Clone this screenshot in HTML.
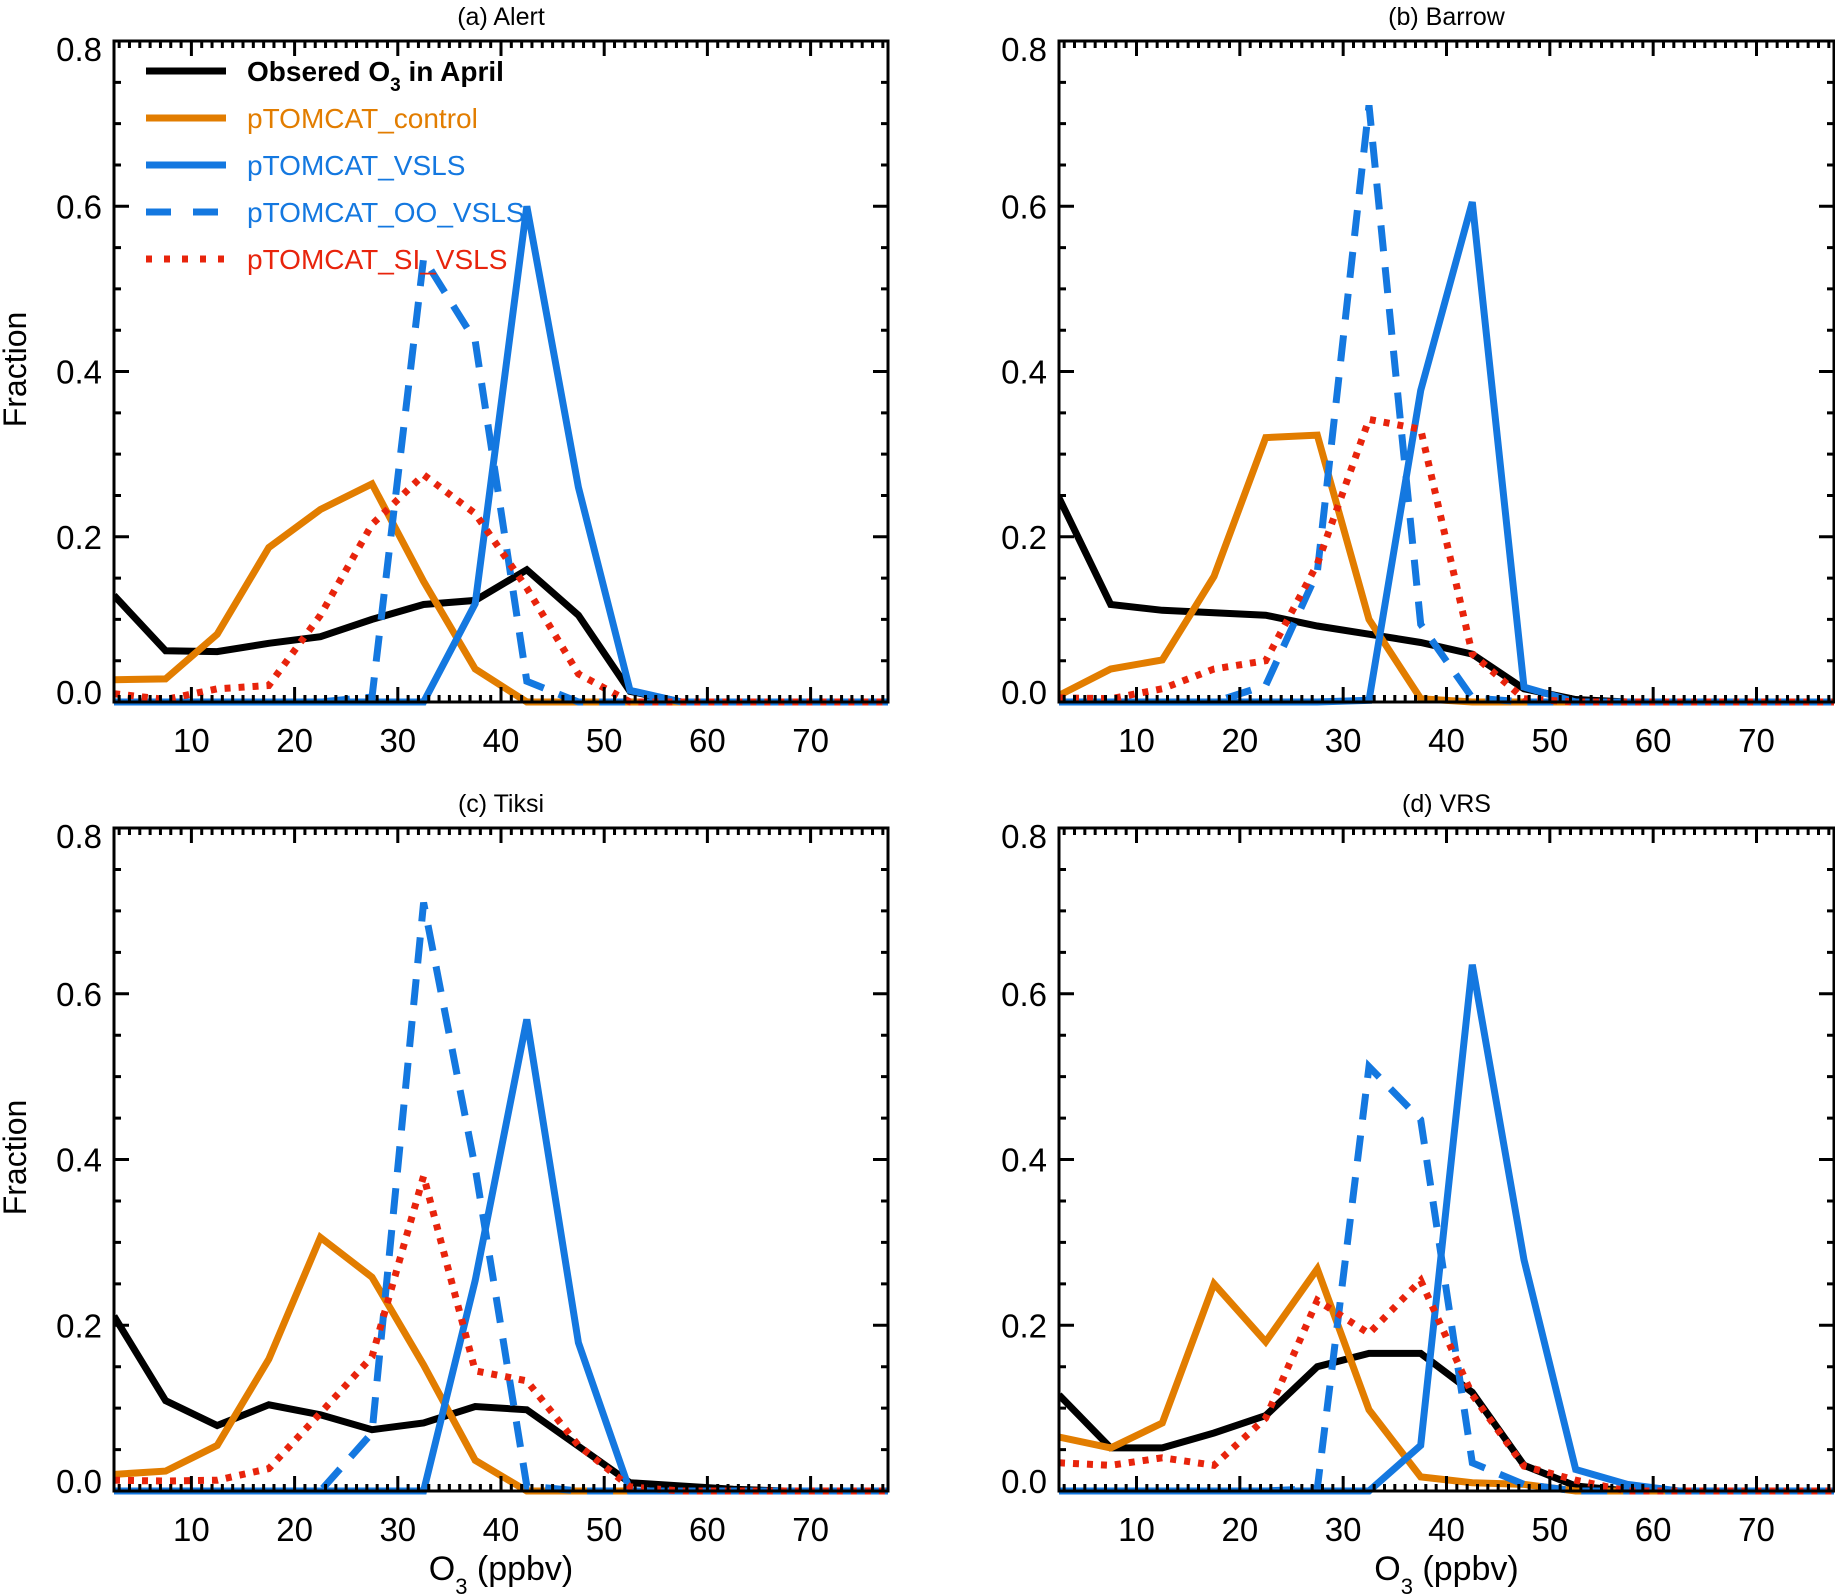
<!DOCTYPE html>
<html><head><meta charset="utf-8">
<style>
html,body{margin:0;padding:0;background:#fff;}
svg{display:block;}
text{font-family:"Liberation Sans","DejaVu Sans",sans-serif;}
</style></head>
<body>
<svg id="fig" width="1835" height="1595" viewBox="0 0 1835 1595" xmlns="http://www.w3.org/2000/svg"></svg>
<script>
const bins = [2.5,7.5,12.5,17.5,22.5,27.5,32.5,37.5,42.5,47.5,52.5,57.5,62.5,67.5,72.5,77.5];
const panelTitles = ["(a)  Alert","(b)  Barrow","(c)  Tiksi","(d)  VRS"];
const yTickLabels = ["0.0","0.2","0.4","0.6","0.8"];
const xTickLabels = ["10","20","30","40","50","60","70"];
const seriesNames = ["Obsered O3 in April","pTOMCAT_control","pTOMCAT_VSLS","pTOMCAT_OO_VSLS","pTOMCAT_SI_VSLS"];

const alertObs     = [0.129,0.062,0.061,0.071,0.079,0.100,0.118,0.123,0.160,0.105,0.013,0,0,0,0,0];
const alertCtrl    = [0.027,0.028,0.082,0.187,0.233,0.264,0.146,0.040,0,0,0,0,0,0,0,0];
const alertVsls    = [0,0,0,0,0,0,0,0.119,0.600,0.260,0.014,0,0,0,0,0];
const alertOo      = [0,0,0,0,0,0.006,0.537,0.437,0.025,0,0,0,0,0,0,0];
const alertSi      = [0.010,0.003,0.016,0.020,0.105,0.215,0.275,0.228,0.138,0.034,0,0,0,0,0,0];

const barrowObs    = [0.247,0.118,0.111,0.108,0.105,0.092,0.082,0.072,0.058,0.016,0.003,0,0,0,0,0];
const barrowCtrl   = [0.008,0.040,0.051,0.152,0.320,0.323,0.100,0.004,0,0,0,0,0,0,0,0];
const barrowVsls   = [0,0,0,0,0,0,0.002,0.377,0.605,0.018,0,0,0,0,0,0];
const barrowOo     = [0,0,0,0,0.020,0.157,0.722,0.094,0.005,0,0,0,0,0,0,0];
const barrowSi     = [0.005,0.004,0.016,0.040,0.050,0.167,0.342,0.330,0.058,0.004,0,0,0,0,0,0];

const tiksiObs     = [0.211,0.109,0.079,0.104,0.092,0.074,0.082,0.102,0.098,0.054,0.010,0.006,0.002,0,0,0];
const tiksiCtrl    = [0.020,0.024,0.055,0.159,0.306,0.258,0.152,0.037,0,0,0,0,0,0,0,0];
const tiksiVsls    = [0,0,0,0,0,0,0,0.254,0.569,0.179,0,0,0,0,0,0];
const tiksiOo      = [0,0,0,0,0,0.070,0.710,0.390,0.006,0,0,0,0,0,0,0];
const tiksiSi      = [0.013,0.012,0.013,0.027,0.094,0.162,0.380,0.145,0.133,0.055,0.005,0,0,0,0,0];

const vrsObs       = [0.116,0.052,0.052,0.070,0.091,0.150,0.166,0.166,0.119,0.031,0.006,0,0,0,0,0];
const vrsCtrl      = [0.065,0.052,0.082,0.250,0.180,0.268,0.098,0.017,0.010,0.008,0,0,0,0,0,0];
const vrsVsls      = [0,0,0,0,0,0,0,0.055,0.635,0.279,0.026,0.008,0,0,0,0];
const vrsOo        = [0,0,0,0,0,0.003,0.512,0.448,0.034,0.008,0,0,0,0,0,0];
const vrsSi        = [0.034,0.031,0.040,0.031,0.088,0.230,0.190,0.254,0.116,0.030,0.013,0,0,0,0,0];

const NS = "http://www.w3.org/2000/svg";
const svg = document.getElementById("fig");
function mk(tag, attrs, parent){
  const e = document.createElementNS(NS, tag);
  for (const k in attrs) e.setAttribute(k, attrs[k]);
  (parent||svg).appendChild(e);
  return e;
}
const styles = [
  {stroke:"#000000", dash:null},
  {stroke:"#E27D00", dash:null},
  {stroke:"#1478E0", dash:null},
  {stroke:"#1478E0", dash:"26 16"},
  {stroke:"#E8240C", dash:"6 8"}
];
const panels = [
  {x0:114, x1:888, y0:41, y1:702, data:[alertObs,alertCtrl,alertVsls,alertOo,alertSi], legend:true, ylab:true, xlab:false, key:"alert"},
  {x0:1059, x1:1834, y0:41, y1:702, data:[barrowObs,barrowCtrl,barrowVsls,barrowOo,barrowSi], legend:false, ylab:false, xlab:false, key:"barrow"},
  {x0:114, x1:888, y0:828, y1:1491, data:[tiksiObs,tiksiCtrl,tiksiVsls,tiksiOo,tiksiSi], legend:false, ylab:true, xlab:true, key:"tiksi"},
  {x0:1059, x1:1834, y0:828, y1:1491, data:[vrsObs,vrsCtrl,vrsVsls,vrsOo,vrsSi], legend:false, ylab:false, xlab:true, key:"vrs"}
];
const XMIN=2.5, XMAX=77.5, YMIN=0, YMAX=0.8;

panels.forEach((p, pi) => {
  const g = mk("g", {});
  
  
  const sx = v => p.x0 + (v - XMIN) / (XMAX - XMIN) * (p.x1 - p.x0);
  const sy = v => p.y1 - (v - YMIN) / (YMAX - YMIN) * (p.y1 - p.y0);

  const t = mk("text", {x:(p.x0+p.x1)/2, y:p.y0-16, "font-size":25, "text-anchor":"middle", fill:"#000"}, g);
  t.textContent = panelTitles[pi];
  
  

  const cid = "clip"+pi;
  const cp = mk("clipPath", {id:cid}, g);
  mk("rect", {x:p.x0, y:p.y0, width:p.x1-p.x0, height:p.y1-p.y0+4}, cp);
  const sg = mk("g", {"clip-path":"url(#"+cid+")"}, g);
  p.data.forEach((arr, si) => {
    const pts = arr.map((v,i) => sx(bins[i]).toFixed(1)+","+sy(v).toFixed(1)).join(" ");
    const st = styles[si];
    const a = {points:pts, fill:"none", stroke:st.stroke, "stroke-width":7, "stroke-linejoin":"miter"};
    if (st.dash) a["stroke-dasharray"] = st.dash;
    const pl = mk("polyline", a, sg);
    
    
  });

  const fr = mk("rect", {x:p.x0, y:p.y0, width:p.x1-p.x0, height:p.y1-p.y0, fill:"none", stroke:"#000", "stroke-width":3}, g);
  
  

  let d = "";
  for (let v=3; v<=77; v++) {
    const x = sx(v);
    const L = (v % 10 === 0) ? 15 : 7;
    d += `M${x},${p.y1}v${-L}M${x},${p.y0}v${L}`;
  }
  for (let k=1; k<16; k++) {
    const y = sy(k*0.05);
    const L = (k % 4 === 0) ? 15 : 7;
    d += `M${p.x0},${y}h${L}M${p.x1},${y}h${-L}`;
  }
  const tk = mk("path", {d:d, stroke:"#000", "stroke-width":3, fill:"none"}, g);
  
  

  xTickLabels.forEach(lbl => {
    const x = sx(parseFloat(lbl));
    const e = mk("text", {x:x, y:p.y1+50, "font-size":33, "text-anchor":"middle", fill:"#000"}, g);
    e.textContent = lbl;
    
    
  });
  yTickLabels.forEach(lbl => {
    const v = parseFloat(lbl);
    let y = sy(v) + 12;
    if (v === 0) y -= 10;
    if (v === 0.8) y += 8;
    const e = mk("text", {x:p.x0-12, y:y, "font-size":33, "text-anchor":"end", fill:"#000"}, g);
    e.textContent = lbl;
    
    
  });

  if (p.ylab) {
    const cy = (p.y0+p.y1)/2 - 2;
    const e = mk("text", {x:0, y:0, "font-size":32, "text-anchor":"middle", fill:"#000", transform:`translate(26,${cy}) rotate(-90)`}, g);
    e.textContent = "Fraction";
    
    
  }
  if (p.xlab) {
    const e = mk("text", {x:(p.x0+p.x1)/2, y:p.y1+89, "font-size":34, "text-anchor":"middle", fill:"#000"}, g);
    e.innerHTML = 'O<tspan font-size="22" dy="14">3</tspan><tspan dy="-14"> (ppbv)</tspan>';
    
    
  }

  if (p.legend) {
    const lg = mk("g", {}, g);
    
    
    const colors = ["#000000","#E27D00","#1478E0","#1478E0","#E8240C"];
    seriesNames.forEach((nm, i) => {
      const y = 71 + i*47;
      const st = styles[i];
      const la = {x1:146, x2:226, y1:y, y2:y, stroke:st.stroke, "stroke-width":7};
      if (i===3) la["stroke-dasharray"] = "25 22";
      if (i===4) la["stroke-dasharray"] = "6 12";
      const ln = mk("line", la, lg);
      
      
      const tx = mk("text", {x:247, y:y+10, "font-size":28, fill:colors[i], "font-weight": i===0 ? "bold":"normal"}, lg);
      if (i===0) tx.innerHTML = 'Obsered O<tspan font-size="19" dy="10">3</tspan><tspan dy="-10"> in April</tspan>';
      else tx.textContent = nm;
      
      
    });
  }
});
</script>
</body></html>
